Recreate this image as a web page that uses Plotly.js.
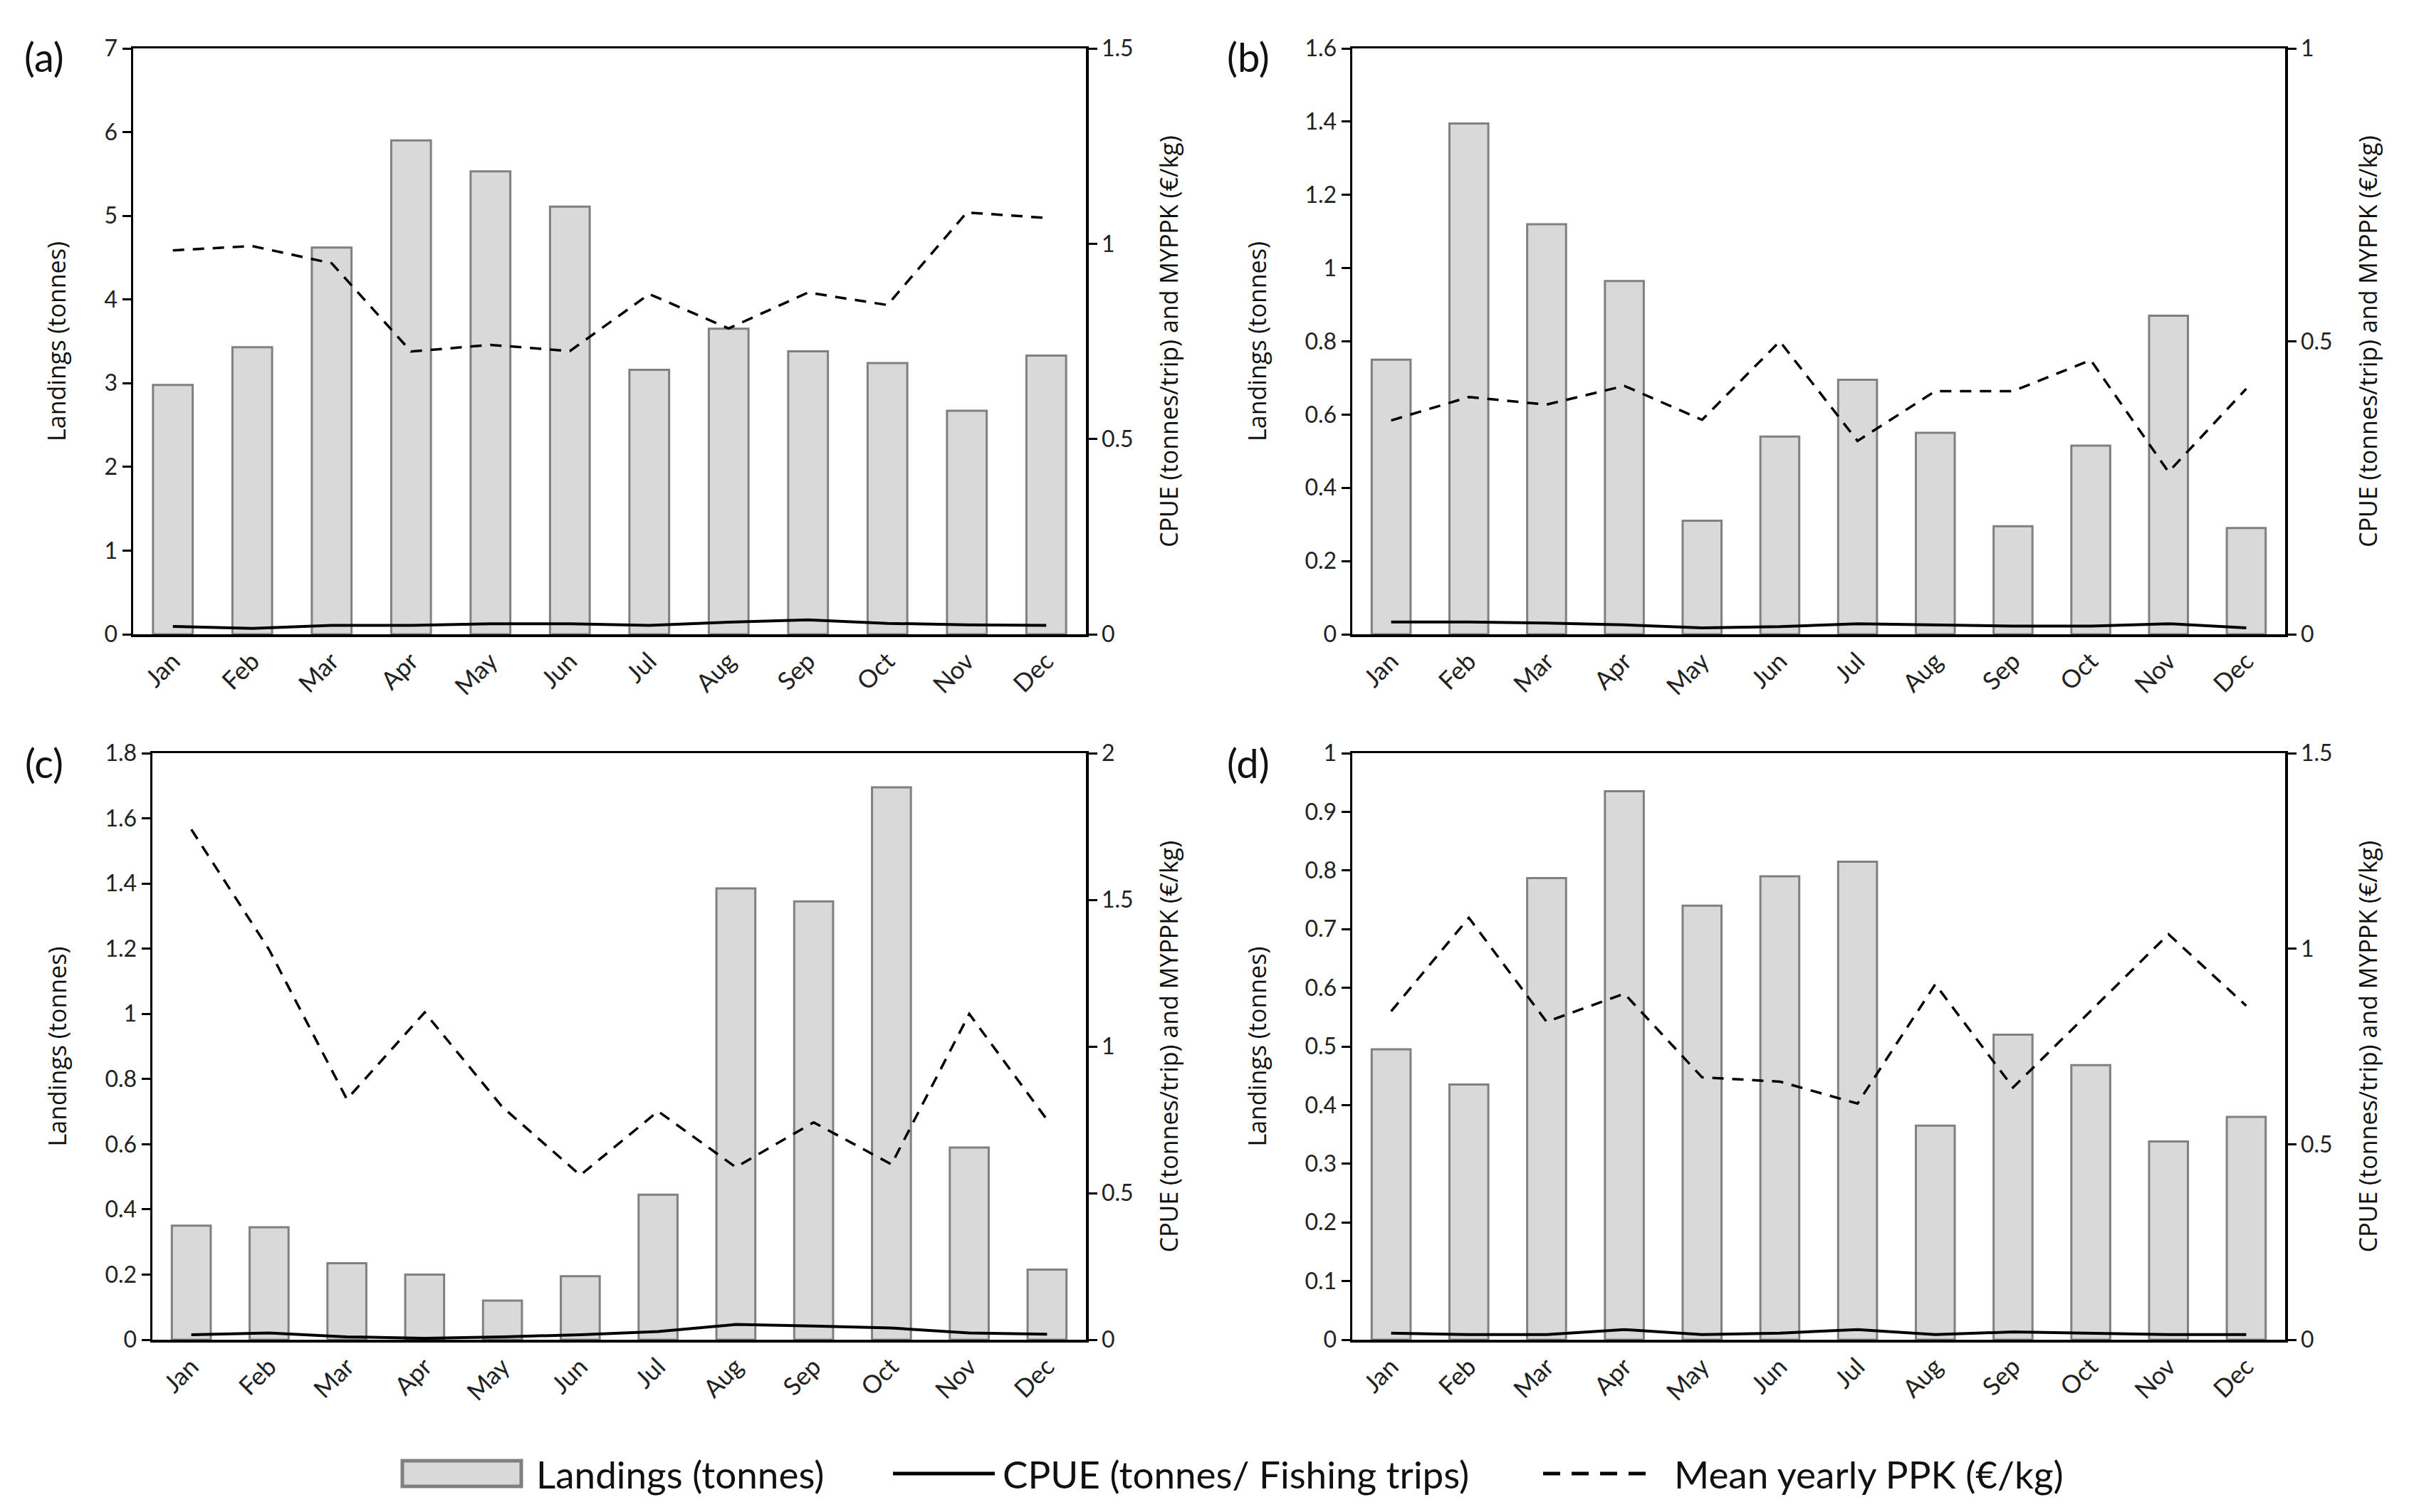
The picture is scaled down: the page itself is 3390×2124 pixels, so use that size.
<!DOCTYPE html>
<html>
<head>
<meta charset="utf-8">
<script src="https://cdn.plot.ly/plotly-3.0.1.min.js"></script>
<style>html,body{margin:0;padding:0;background:#fff;}#chart{width:3390px;height:2124px;}</style>
</head>
<body>
<div id="chart"></div>
<script>
const months = ["Jan","Feb","Mar","Apr","May","Jun","Jul","Aug","Sep","Oct","Nov","Dec"];
const panelLabels = ["(a)","(b)","(c)","(d)"];

const landingsA = [2.98,3.43,4.62,5.90,5.53,5.11,3.16,3.65,3.38,3.24,2.67,3.33];
const cpueA     = [0.020,0.015,0.023,0.023,0.027,0.027,0.023,0.031,0.037,0.028,0.024,0.023];
const ppkA      = [0.983,0.994,0.950,0.724,0.741,0.725,0.871,0.783,0.875,0.843,1.080,1.066];

const landingsB = [0.75,1.395,1.12,0.965,0.31,0.54,0.695,0.55,0.295,0.515,0.87,0.29];
const cpueB     = [0.021,0.021,0.019,0.016,0.011,0.013,0.018,0.016,0.014,0.014,0.018,0.011];
const ppkB      = [0.365,0.405,0.392,0.424,0.366,0.500,0.330,0.415,0.415,0.468,0.277,0.419];

const landingsC = [0.35,0.345,0.235,0.20,0.12,0.195,0.445,1.385,1.345,1.695,0.59,0.215];
const cpueC     = [0.017,0.023,0.010,0.005,0.010,0.017,0.028,0.052,0.047,0.040,0.023,0.019];
const ppkC      = [1.740,1.330,0.820,1.116,0.793,0.561,0.779,0.588,0.741,0.598,1.111,0.750];

const landingsD = [0.495,0.435,0.787,0.935,0.74,0.79,0.815,0.365,0.52,0.468,0.338,0.38];
const cpueD     = [0.017,0.013,0.013,0.026,0.013,0.017,0.026,0.013,0.020,0.017,0.013,0.013];
const ppkD      = [0.840,1.079,0.813,0.885,0.671,0.660,0.604,0.909,0.645,0.841,1.037,0.854];

const leftRanges  = [[0,7],[0,1.6],[0,1.8],[0,1]];
const leftDticks  = [1,0.2,0.2,0.1];
const rightRanges = [[0,1.5],[0,1],[0,2],[0,1.5]];
const rightDticks = [0.5,0.5,0.5,0.5];

const legendNames = ["Landings (tonnes)","CPUE (tonnes/ Fishing trips)","Mean yearly PPK (€/kg)"];
const leftTitle = "Landings (tonnes)";
const rightTitle = "CPUE (tonnes/trip) and MYPPK (€/kg)";

const panels = [
  {l: landingsA, c: cpueA, p: ppkA},
  {l: landingsB, c: cpueB, p: ppkB},
  {l: landingsC, c: cpueC, p: ppkC},
  {l: landingsD, c: cpueD, p: ppkD}
];

const W = 3390, H = 2124;
// plot-area boxes in pixels [left, right, top, bottom]
const boxes = [
  [187,1525,68,891],
  [1899,3209,68,891],
  [214,1525,1058,1882],
  [1899,3209,1058,1882]
];
const labelPos = [[62,80],[1753,80],[62,1071],[1753,1071]];

const px = v => v / W;
const py = v => 1 - v / H;

const BAR_FILL = "#d9d9d9", BAR_LINE = "#808080";
const DASH = "16px,12px";
const tickFont = {family:"Lato, 'Liberation Sans', sans-serif", size:32, color:"#222"};
const xTickFont = {family:"Lato, 'Liberation Sans', sans-serif", size:35, color:"#222"};
const titleFont = {family:"'Open Sans', 'Noto Sans', sans-serif", size:34, color:"#111"};
const labelFont = {family:"Lato, 'Liberation Sans', sans-serif", size:56, color:"#111"};
const legendFont = {family:"Lato, 'Liberation Sans', sans-serif", size:53, color:"#111"};

const traces = [];
const layout = {
  width: W, height: H,
  margin: {l:0, r:0, t:0, b:0},
  paper_bgcolor: "#fff", plot_bgcolor: "#fff",
  showlegend: false,
  bargap: 0.5,
  annotations: [],
  shapes: []
};

panels.forEach((pd, i) => {
  const xn = i === 0 ? "" : String(i+1);
  const yl = i === 0 ? "" : String(2*i+1);
  const yr = String(2*i+2);
  const xref = "x" + xn, ylref = "y" + yl, yrref = "y" + yr;
  const b = boxes[i];
  const xdom = [px(b[0]), px(b[1])];
  const ydom = [py(b[3]), py(b[2])];

  traces.push({
    type: "bar", x: months, y: pd.l, xaxis: xref, yaxis: ylref,
    name: legendNames[0],
    marker: {color: BAR_FILL, line: {color: BAR_LINE, width: 3}},
    hoverinfo: "skip"
  });
  traces.push({
    type: "scatter", mode: "lines", x: months, y: pd.c, xaxis: xref, yaxis: yrref,
    name: legendNames[1],
    line: {color: "#000", width: 4}
  });
  traces.push({
    type: "scatter", mode: "lines", x: months, y: pd.p, xaxis: xref, yaxis: yrref,
    name: legendNames[2],
    line: {color: "#000", width: 3.5, dash: DASH}
  });

  layout["xaxis" + xn] = {
    domain: xdom, anchor: ylref, type: "category",
    showline: true, linecolor: "#000", linewidth: 3.5, mirror: true,
    ticks: "", showgrid: false, zeroline: false,
    tickangle: -45, tickfont: xTickFont, fixedrange: true
  };
  layout["yaxis" + yl] = {
    domain: ydom, anchor: xref, range: leftRanges[i], dtick: leftDticks[i], tick0: 0,
    showline: true, linecolor: "#000", linewidth: 3.5,
    ticks: "outside", ticklen: 12, tickwidth: 3, tickcolor: "#000",
    showgrid: false, zeroline: false, tickfont: tickFont,
    title: {text: leftTitle, font: titleFont, standoff: 44}
  };
  layout["yaxis" + yr] = {
    domain: ydom, anchor: xref, overlaying: ylref, side: "right",
    range: rightRanges[i], dtick: rightDticks[i], tick0: 0,
    showline: true, linecolor: "#000", linewidth: 3.5,
    ticks: "outside", ticklen: 12, tickwidth: 3, tickcolor: "#000",
    showgrid: false, zeroline: false, tickfont: tickFont,
    title: {text: rightTitle, font: titleFont, standoff: 40}
  };
  layout.annotations.push({
    xref: "paper", yref: "paper", x: px(labelPos[i][0]), y: py(labelPos[i][1]),
    xanchor: "center", yanchor: "middle", showarrow: false, text: panelLabels[i],
    font: labelFont
  });
});

// custom legend (wide bar swatch like the original)
const legY = 2070;
layout.shapes.push({
  type: "rect", xref: "paper", yref: "paper",
  x0: px(565), x1: px(732), y0: py(2088), y1: py(2052),
  fillcolor: BAR_FILL, line: {color: BAR_LINE, width: 5}
});
layout.shapes.push({
  type: "line", xref: "paper", yref: "paper",
  x0: px(1254), x1: px(1397), y0: py(legY), y1: py(legY),
  line: {color: "#000", width: 5}
});
layout.shapes.push({
  type: "line", xref: "paper", yref: "paper",
  x0: px(2167), x1: px(2321), y0: py(legY), y1: py(legY),
  line: {color: "#000", width: 5, dash: "24px,16px"}
});
const legTextX = [751, 1406, 2349];
legendNames.forEach((t, k) => {
  layout.annotations.push({
    xref: "paper", yref: "paper", x: px(legTextX[k]), y: py(legY),
    xanchor: "left", yanchor: "middle", showarrow: false, text: t, font: legendFont
  });
});

Plotly.newPlot("chart", traces, layout, {staticPlot: true, displayModeBar: false});
</script>
</body>
</html>
